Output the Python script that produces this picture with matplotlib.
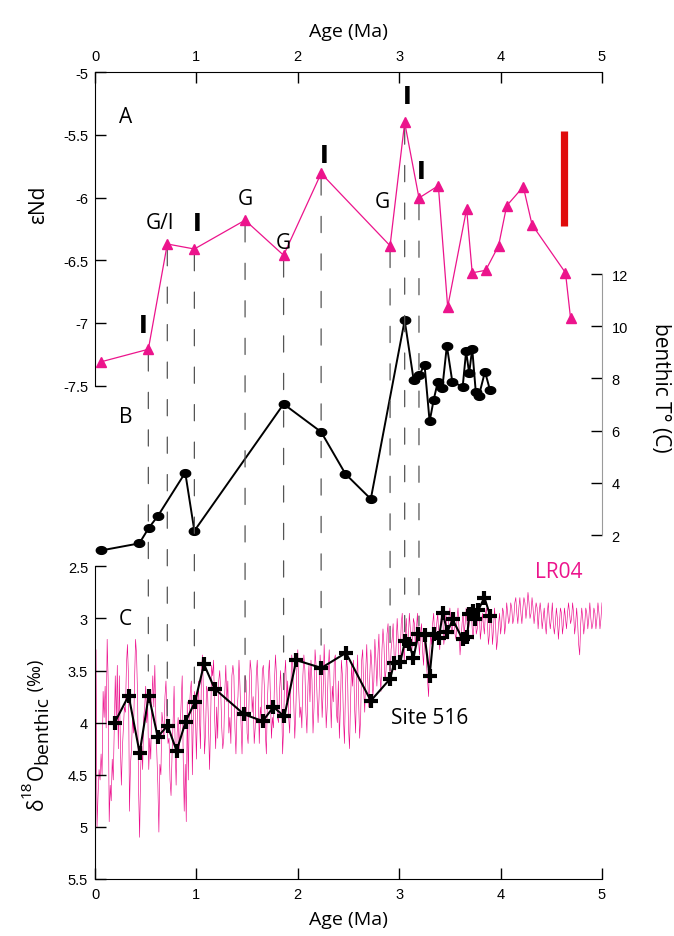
import numpy as np
import matplotlib
matplotlib.use("Agg")
import matplotlib.pyplot as plt
from matplotlib.patches import ConnectionPatch

# ---------------- data ----------------
# Panel A: epsilon Nd
nd_age = [0.06, 0.526, 0.713, 0.98, 1.48, 1.86, 2.23, 2.91, 3.054, 3.195, 3.386,
          3.478, 3.665, 3.72, 3.853, 3.98, 4.06, 4.224, 4.31, 4.64, 4.69]
nd_val = [-7.31, -7.21, -6.37, -6.41, -6.18, -6.46, -5.806, -6.384, -5.40, -6.003, -5.905,
          -6.873, -6.09, -6.60, -6.58, -6.384, -6.065, -5.913, -6.216, -6.60, -6.963]

# red bar (uncertainty) in panel A
bar_age = 4.63
bar_range = [-5.466, -6.23]

# Panel B: benthic temperature
t_age = [0.062, 0.437, 0.53, 0.62, 0.89, 0.98, 1.86, 2.23, 2.47, 2.72, 3.054, 3.143,
         3.195, 3.25, 3.30, 3.34, 3.38, 3.425, 3.47, 3.524, 3.626, 3.66, 3.69, 3.72,
         3.755, 3.784, 3.846, 3.895]
t_val = [1.41, 1.68, 2.27, 2.73, 4.39, 2.16, 7.02, 5.95, 4.34, 3.38, 10.23, 7.93,
         8.12, 8.51, 6.35, 7.18, 7.86, 7.62, 9.25, 7.87, 7.68, 9.04, 8.20, 9.14,
         7.49, 7.31, 8.26, 7.56]

# Panel C: Site 516 benthic d18O
c_age = [0.194, 0.332, 0.44, 0.53, 0.618, 0.716, 0.805, 0.894, 0.986, 1.075, 1.18,
         1.47, 1.654, 1.76, 1.867, 1.985, 2.232, 2.475, 2.72, 2.91, 2.95, 3.01, 3.057,
         3.10, 3.14, 3.19, 3.25, 3.30, 3.34, 3.39, 3.43, 3.475, 3.527, 3.625, 3.67,
         3.69, 3.725, 3.75, 3.78, 3.84, 3.90]
c_val = [4.00, 3.74, 4.29, 3.74, 4.135, 4.03, 4.27, 3.99, 3.80, 3.44, 3.675,
         3.92, 3.985, 3.85, 3.94, 3.40, 3.475, 3.33, 3.79, 3.58, 3.43, 3.42, 3.22,
         3.25, 3.38, 3.15, 3.16, 3.55, 3.15, 3.19, 2.95, 3.13, 3.01, 3.20, 3.18,
         2.96, 2.925, 3.01, 2.92, 2.80, 2.98]

# LR04 stack, 0.01 Ma steps from 0 to 5 Ma
lr04_step = 0.01
lr04_d18o = [
    3.40, 3.30, 5.00, 4.70, 4.45, 4.55, 4.30, 4.50, 3.70, 3.95,
    3.65, 4.05, 3.20, 3.60, 4.95, 4.60, 4.75, 4.35, 4.55, 4.05,
    3.55, 4.00, 3.45, 4.25, 3.55, 4.20, 4.60, 4.25, 4.05, 3.85,
    3.90, 3.45, 3.25, 3.55, 4.85, 4.40, 4.25, 3.95, 4.10, 3.60,
    3.20, 3.35, 3.75, 4.65, 5.10, 4.45, 4.20, 4.45, 3.95, 3.85,
    3.65, 4.00, 3.85, 4.45, 4.15, 4.35, 3.80, 3.55, 3.85, 3.45,
    3.95, 4.30, 4.60, 5.05, 4.40, 4.50, 3.90, 4.00, 4.15, 3.75,
    3.60, 3.95, 4.20, 4.15, 4.55, 4.70, 4.30, 4.00, 3.65, 4.20,
    4.60, 4.10, 3.95, 4.25, 4.05, 3.80, 3.55, 4.35, 4.85, 4.40,
    4.95, 3.80, 4.55, 3.90, 3.70, 3.60, 4.50, 3.95, 3.70, 3.90,
    4.35, 3.90, 3.60, 3.95, 4.25, 3.50, 3.35, 3.75, 4.30, 4.10,
    3.65, 3.70, 4.05, 4.45, 4.00, 3.45, 3.55, 3.40, 3.95, 4.25,
    3.85, 4.15, 3.60, 3.50, 3.70, 4.05, 4.25, 4.15, 3.70, 3.45,
    3.80, 3.60, 4.10, 3.95, 4.20, 3.55, 3.45, 3.55, 4.05, 4.30,
    3.90, 3.75, 3.40, 3.65, 4.00, 4.30, 3.85, 3.95, 3.55, 3.60,
    4.10, 4.20, 3.75, 3.40, 3.50, 3.90, 3.75, 4.20, 4.05, 3.55,
    3.40, 3.70, 4.20, 3.85, 3.95, 3.50, 3.45, 3.65, 4.10, 4.30,
    3.80, 3.55, 3.40, 3.75, 4.15, 3.95, 4.05, 3.60, 3.35, 3.55,
    3.95, 4.00, 3.70, 3.50, 3.75, 4.30, 4.05, 3.55, 3.40, 3.80,
    3.60, 3.95, 4.10, 3.70, 3.35, 3.45, 3.80, 4.15, 3.90, 3.50,
    3.30, 3.70, 3.95, 3.85, 4.05, 3.55, 3.35, 3.50, 3.90, 4.10,
    3.65, 3.45, 3.80, 3.40, 3.60, 4.10, 3.85, 3.30, 3.45, 3.75,
    4.00, 3.75, 3.35, 3.55, 3.95, 3.70, 3.25, 3.60, 4.05, 3.85,
    3.50, 3.30, 3.70, 4.05, 3.65, 3.80, 3.40, 3.35, 3.90, 4.00,
    3.60, 4.15, 3.85, 3.40, 3.55, 3.95, 4.20, 3.70, 3.35, 3.50,
    4.05, 4.25, 3.80, 3.45, 3.65, 3.40, 3.85, 4.10, 3.60, 3.35,
    3.80, 4.15, 3.95, 3.40, 3.30, 3.70, 3.90, 3.50, 3.25, 3.60,
    3.85, 3.55, 3.30, 3.45, 3.75, 3.60, 3.20, 3.40, 3.65, 3.35,
    3.15, 3.55, 3.70, 3.30, 3.10, 3.25, 3.60, 3.50, 3.15, 3.05,
    3.40, 3.55, 3.30, 3.20, 3.05, 3.35, 3.50, 3.25, 3.00, 3.20,
    3.45, 3.35, 3.05, 2.95, 3.25, 3.40, 3.15, 3.00, 3.30, 3.20,
    2.95, 3.10, 3.35, 3.25, 3.00, 3.05, 3.30, 3.10, 2.95, 3.20,
    3.35, 3.15, 3.05, 3.30, 3.45, 3.20, 3.15, 3.45, 3.60, 3.75,
    3.35, 3.15, 3.25, 3.05, 2.95, 3.20, 3.15, 3.05, 2.95, 3.15,
    3.30, 3.05, 2.90, 3.00, 3.25, 3.15, 2.95, 3.10, 3.20, 3.00,
    2.90, 3.05, 3.15, 3.05, 2.95, 3.15, 3.20, 3.00, 2.90, 3.10,
    3.35, 3.20, 3.05, 2.95, 3.15, 3.05, 2.90, 3.05, 3.15, 3.05,
    2.95, 2.90, 3.10, 3.20, 3.00, 2.95, 3.15, 3.10, 2.95, 2.90,
    3.20, 3.10, 2.95, 3.05, 3.15, 2.95, 2.90, 3.05, 3.25, 3.15,
    2.95, 3.00, 3.25, 3.10, 2.90, 3.05, 3.30, 3.20, 3.05, 2.95,
    3.15, 3.05, 2.90, 2.95, 3.15, 3.05, 2.85, 2.95, 3.05, 3.00,
    2.85, 2.90, 3.05, 3.00, 2.85, 2.80, 2.95, 3.05, 2.90, 2.80,
    2.95, 3.05, 2.90, 2.80, 2.85, 3.00, 2.90, 2.75, 2.85, 3.00,
    2.95, 2.80, 2.90, 3.05, 2.95, 2.85, 2.90, 3.10, 2.95, 2.85,
    2.95, 3.10, 3.00, 2.90, 3.05, 3.15, 2.95, 2.85, 3.00, 3.10,
    3.00, 2.85, 3.05, 3.15, 3.05, 2.90, 3.00, 3.20, 3.05, 2.90,
    2.95, 3.15, 3.05, 2.90, 3.00, 3.10, 2.95, 2.85, 2.95, 3.05,
    3.00, 2.85, 2.95, 3.15, 3.05, 2.90, 3.05, 3.25, 3.35, 3.05,
    2.90, 3.00, 3.15, 3.05, 2.90, 2.95, 3.10, 3.00, 2.85, 3.00,
    3.10, 3.05, 2.90, 2.95, 3.10, 3.00, 2.85, 2.95, 3.10, 3.00,
    2.85,
]
lr04_age = np.arange(len(lr04_d18o)) * lr04_step

# ages of the tie lines (G = glacial, I = interglacial)
tie_age = [0.526, 0.713, 0.98, 1.48, 1.86, 2.23, 2.91, 3.054, 3.195]

x_ticks = [0, 1, 2, 3, 4, 5]
nd_ticks = [-5, -5.5, -6, -6.5, -7, -7.5]
t_ticks = [2, 4, 6, 8, 10, 12]
c_ticks = [2.5, 3, 3.5, 4, 4.5, 5, 5.5]

# ---------------- style ----------------
PINK = "#ec148c"
LRPINK = "#ec0a8a"
TXT = "Open Sans"
TICKF = "Liberation Sans"

W, H = 674, 937
fig = plt.figure(figsize=(W / 100, H / 100), dpi=100)
left_px, right_px, top_px, bot_px = 95, 602, 73.3, 880
rect = [left_px / W, 1 - bot_px / H, (right_px - left_px) / W, (bot_px - top_px) / H]

axC = fig.add_axes(rect)
axB = fig.add_axes(rect, facecolor="none")
axA = fig.add_axes(rect, facecolor="none")

for ax in (axA, axB, axC):
    ax.set_xlim(0, 5)
    for s in ax.spines.values():
        s.set_visible(False)
    ax.tick_params(direction="in", length=8, width=1, labelsize=10.5)

axA.set_ylim(-11.437, -5)
axB.set_ylim(-11.18, 19.73)
axC.set_ylim(5.5, -2.24)

# ---- panel C ----
axC.plot(lr04_age, lr04_d18o, color=LRPINK, lw=0.45, zorder=1)
axC.plot(c_age, c_val, color="black", lw=1.5, marker="+", ms=10, mew=3, zorder=3)
axC.spines["left"].set_visible(True)
axC.spines["left"].set_bounds(2.5, 5.5)
axC.spines["bottom"].set_visible(True)
axC.set_yticks(c_ticks)
axC.set_yticklabels([f"{v:g}" for v in c_ticks], fontfamily=TICKF)
axC.set_xticks(x_ticks)
axC.set_xticklabels([str(v) for v in x_ticks], fontfamily=TICKF)
axC.tick_params(axis="y", pad=5)
axC.tick_params(axis="x", pad=6)
axC.set_xlabel("Age (Ma)", fontfamily=TXT, fontsize=14, labelpad=6)

# ---- panel B ----
ell = np.linspace(0, 2 * np.pi, 40)
ellipse_marker = list(zip(np.cos(ell) * 1.35, np.sin(ell)))
axB.plot(t_age, t_val, color="black", lw=1.4, marker=ellipse_marker, ms=7.5,
         mec="black", mfc="black", zorder=3)
axB.spines["right"].set_visible(True)
axB.spines["right"].set_color("#9a9a9a")
axB.spines["right"].set_bounds(2, 12)
axB.yaxis.tick_right()
axB.set_yticks(t_ticks)
axB.set_yticklabels([str(v) for v in t_ticks], fontfamily=TICKF)
axB.tick_params(axis="y", pad=7, colors="black")
axB.set_xticks([])

# ---- panel A ----
axA.plot(nd_age, nd_val, color=PINK, lw=0.9, marker="^", ms=7, mec=PINK, mfc=PINK, zorder=3)
axA.plot([bar_age, bar_age], bar_range, color="#e00b0b", lw=5.2, solid_capstyle="butt")
axA.spines["left"].set_visible(True)
axA.spines["left"].set_bounds(-7.5, -5)
axA.spines["top"].set_visible(True)
axA.set_yticks(nd_ticks)
axA.set_yticklabels([f"{v:g}" for v in nd_ticks], fontfamily=TICKF)
axA.xaxis.tick_top()
axA.xaxis.set_label_position("top")
axA.set_xticks(x_ticks)
axA.set_xticklabels([str(v) for v in x_ticks], fontfamily=TICKF)
axA.tick_params(axis="y", pad=5)
axA.tick_params(axis="x", pad=7)
axA.set_xlabel("Age (Ma)", fontfamily=TXT, fontsize=14, labelpad=9)

# ---- tie lines from epsilon Nd point to Site 516 point ----
for a in tie_age:
    y0 = np.interp(a, nd_age, nd_val)
    y1 = np.interp(a, c_age, c_val)
    cp = ConnectionPatch(xyA=(a, y0), coordsA=axA.transData,
                         xyB=(a, y1), coordsB=axC.transData,
                         arrowstyle="-", shrinkA=4, shrinkB=6,
                         color="#555555", lw=0.9, linestyle=(0, (13, 17)), zorder=2)
    axA.add_artist(cp)

# ---- labels ----
kw_big = dict(fontfamily=TXT, fontsize=15, ha="center", va="center")
kw_I = dict(fontfamily="DejaVu Sans", fontsize=17, fontweight="bold", ha="center", va="center")
axA.text(0.30, -5.35, "A", **kw_big)
axA.text(0.30, -7.75, "B", **kw_big)
axC.text(0.30, 3.0, "C", **kw_big)
for x, y in [(0.48, -7.02), (1.01, -6.20), (2.26, -5.66), (3.08, -5.19), (3.22, -5.785)]:
    axA.text(x, y, "I", **kw_I)
axA.text(0.64, -6.20, "G/I", **kw_big)
for x, y in [(1.48, -6.01), (1.86, -6.36), (2.83, -6.03)]:
    axA.text(x, y, "G", **kw_big)
axC.text(3.30, 3.955, "Site 516", **kw_big)
axC.text(4.575, 2.55, "LR04", color=PINK, **kw_big)

fig.text(39 / W, 1 - 205 / H, "εNd", fontfamily=TXT, fontsize=15, rotation=90,
         ha="center", va="center")
fig.text(661 / W, 1 - 388 / H, "benthic T° (C)", fontfamily=TXT, fontsize=15,
         rotation=270, ha="center", va="center")

# stacked, rotated d18O label (built piece by piece)
fig.canvas.draw()
renderer = fig.canvas.get_renderer()
pieces = [("δ", 15, 0), ("18", 11, -12), ("O", 15, 0), ("benthic", 14, 4), (" (‰)", 13, -2)]
base_x = 43
y_cur = 810
for s, size, dx in pieces:
    t = fig.text((base_x + dx) / W, 1 - y_cur / H, s, fontfamily=TXT, fontsize=size,
                 rotation=90, rotation_mode="anchor", ha="left", va="baseline")
    bb = t.get_window_extent(renderer)
    y_cur -= bb.height

fig.savefig("out.png", dpi=100)
